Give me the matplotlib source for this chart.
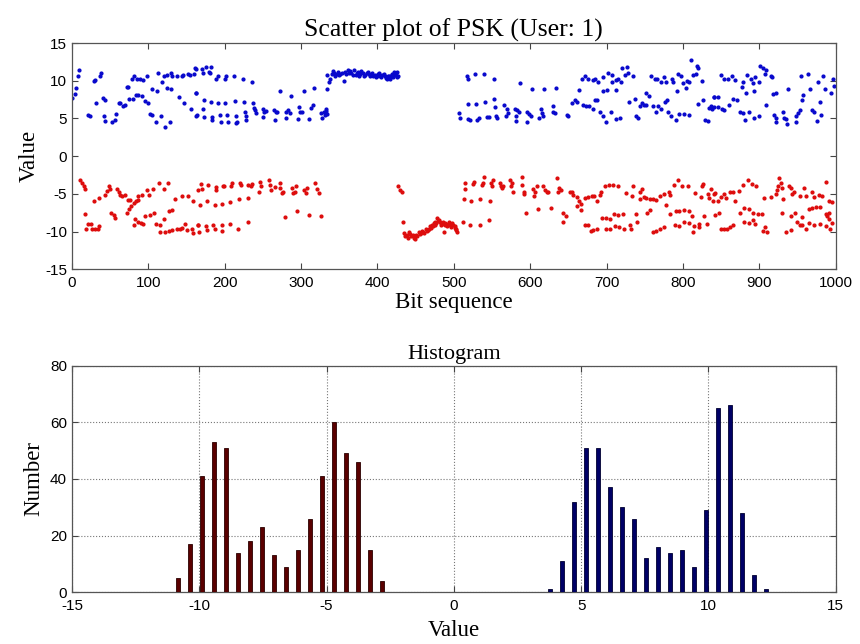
import matplotlib
matplotlib.use("Agg")
import matplotlib.pyplot as plt

# scatter values (bit index, value)
blue_x = [0.2, 3.3, 5.9, 8, 9.8, 21, 23, 28.5, 30.6, 32, 37, 38.5, 40, 43.7, 41.5, 43.7, 52, 56, 57.6, 61, 63.3, 66.3, 69,
          72, 74, 75, 80, 78, 81, 85, 89, 93.6, 98, 83.6, 87, 91.5, 96, 100, 102, 104.5, 105, 111, 110, 116, 122, 128,
          112, 117.6, 120, 124, 130, 131, 124, 130, 137, 144, 146, 151.5, 154.5, 160, 161, 140, 147, 156, 162, 164,
          163, 170.6, 172, 176, 179, 182, 180.6, 189, 191, 201, 202, 212, 224, 236, 163, 172.7, 182, 191, 201, 213,
          225, 237, 172, 163, 173, 183.6, 183.6, 193.6, 195, 203.6, 204.5, 214.5, 216, 215, 226, 227.5, 228, 238,
          241.4, 240, 250, 252, 254.4, 250, 264.4, 266.6, 265.3, 268.8, 271.8, 280.5, 282.7, 285, 287, 280.5, 295.7,
          297, 299, 301, 303.5, 311, 313, 315, 317.5, 326, 327.5, 330.5, 332.7, 334, 334,
          332.7, 334, 331.8, 337, 338.3, 340, 343.5, 347, 350, 353, 355.7, 357.4, 361, 363, 366, 369.6, 371.8, 374,
          377.4, 380.5, 382.7, 386, 389, 392, 394.8, 397.9, 401, 403.5, 406.6, 409.6, 412.2, 415.2, 417.4, 419.6,
          421.8, 424, 425, 427, 341.5, 345, 348.5, 351.5, 358.9, 364.5, 367.8, 372.9, 375.7, 379, 384.3, 387.6, 390.5,
          393.4, 396.3, 399.5, 402.2, 405, 408, 410.9, 413.7, 416.3, 418.5, 420.7, 422.9, 426,
          517.4, 518.3, 528.2, 540, 552, 587, 603, 618.6, 634, 518.3, 529.6, 541.3, 553, 554.3, 566, 569.5, 570.4,
          568.7, 580.4, 582.6, 584.7, 581.7, 581.3, 595.6, 597.8, 600.8, 595.6, 613.9, 615.2, 616.5, 612.1, 629.5,
          630.4, 632.5, 647.8, 650, 654.3, 658.6, 660.8, 664.3, 667.3, 671.7, 506.5, 507.8, 518.3, 520.9, 530.4,
          532.6, 543.5, 545.6, 555.6, 556.5,
          676, 681.7, 684.7, 689, 695.6, 702.1, 707.7, 713, 715.1, 719.5, 720.8, 723.8, 726.9, 728.2, 734.7, 695.6,
          700.8, 713, 707.7, 669.5, 673, 677.3, 681.7, 684.7, 687.8, 691.2, 694.7, 699.9, 706.4, 712.1, 718.2, 729.5,
          736.9, 739, 741.2, 743.4, 746.9, 748.6, 752.1, 755.5, 752.1, 760.8, 764.2, 767.3, 771.6, 776, 779, 780.3,
          784.7, 791.2, 795.5, 802, 807.7, 758.6, 763, 766, 771.6, 774.7, 778.2, 786, 786.8, 793.4, 797.7, 799.9,
          805.1, 808.6, 810.7, 812.9, 817.3, 819.4, 818.1, 825.1, 792.5, 803.4, 819.4, 826.8, 829.4, 832.5, 834.6,
          838.1, 836.8, 841.2,
          849.9, 854.2, 858.6, 864.2, 868.6, 877.2, 879, 882.5, 883.3, 889, 891.2, 894.6, 893.3, 899.8, 901.1, 904.2,
          907.7, 908.5, 915.1, 917.2, 954.2, 964.2, 965.9, 977.2, 983.3, 985.9, 993.3, 841.2, 845.5, 841.2, 845.5,
          851.2, 854.2, 859.9, 866, 870.3, 874.6, 879, 881.6, 886.8, 893.3, 899.8, 909.4, 918.1, 922.4, 919.4, 921.6,
          922.4, 931.1, 932.4, 935.5, 936.8, 947.6, 948.5, 951.1, 952.9, 938.1, 955.5, 957.2, 969.4, 971.6, 975.9,
          978.9, 980.2, 998, 996]
blue_y = [7.7, 8.2, 9.1, 10.6, 11.4, 5.5, 5.3, 10.0, 10.1, 7.0, 10.6, 11.0, 7.7, 7.5, 5.3, 4.7, 4.6, 4.8, 5.6, 7.0, 7.0,
          6.7, 6.8, 9.2, 9.2, 7.6, 7.6, 10.3, 10.7, 10.3, 10.2, 10.1, 10.7, 8.1, 8.1, 8.0, 7.3, 7.1, 5.6, 5.5, 8.9,
          8.6, 4.6, 5.3, 3.9, 4.5, 11.0, 9.9, 10.6, 10.8, 11.0, 10.6, 9.0, 8.9, 10.6, 10.6, 10.8, 10.9, 10.8, 10.9,
          11.7, 7.9, 7.0, 6.3, 8.4, 5.5,
          11.6, 11.6, 11.1, 11.9, 11.2, 11.8, 11.0, 10.3, 10.6, 10.2, 10.6, 10.7, 10.2, 9.8, 8.4, 7.5, 7.2, 7.1, 7.1,
          7.3, 7.2, 7.1, 6.2, 5.3, 5.2, 5.2, 4.8, 5.5, 4.6, 5.4, 4.5, 5.3, 4.6, 4.4, 5.8, 5.3, 4.8, 6.4, 5.7, 6.1,
          6.2, 5.9, 6.0, 5.2, 6.1, 5.9, 4.8, 5.9, 8.7, 5.8, 6.1, 5.7, 8.0, 5.0, 4.9, 6.5, 5.9, 5.8, 8.6, 4.9, 6.4,
          6.8, 9.1, 5.7, 5.0, 5.9, 6.2, 10.8, 8.9,
          6.0, 5.6, 5.5, 9.9, 10.3, 10.9, 11.1, 10.9, 10.8, 11.1, 10.0, 11.2, 11.4, 11.1, 11.0, 11.4, 10.8, 11.2,
          10.9, 11.1, 10.6, 11.1, 10.9, 10.8, 10.6, 10.5, 10.9, 10.6, 10.8, 10.6, 10.2, 10.6, 10.6, 10.9, 11.2, 11.0,
          10.5, 10.6, 11.3, 10.7, 11.2, 10.9, 10.9, 11.3, 10.8, 11.0, 10.7, 11.3, 10.8, 11.2, 10.7, 11.0, 10.8, 10.7,
          11.1, 10.5, 10.9, 10.4, 10.7, 10.3, 10.8, 10.5, 10.8, 11.2,
          10.6, 10.2, 10.9, 10.9, 10.3, 9.7, 8.9, 8.9, 9.0, 6.9, 6.9, 7.2, 7.6, 6.5, 6.8, 6.2, 5.7, 5.3, 6.3, 6.1,
          5.9, 5.3, 4.7, 5.9, 5.6, 5.3, 4.5, 6.3, 5.7, 5.3, 5.0, 6.6, 5.9, 5.7, 5.5, 5.3, 7.1, 7.5, 7.2, 8.8, 10.2,
          10.6, 5.7, 5.0, 4.9, 4.8, 4.8, 5.0, 5.2, 5.2, 5.3, 5.0,
          10.3, 10.1, 10.2, 9.9, 10.5, 11.1, 10.8, 10.1, 10.3, 9.9, 11.7, 10.8, 11.8, 11.1, 10.6, 8.6, 8.8, 8.8,
          9.9, 6.8, 6.7, 6.7, 6.2, 7.5, 7.4, 5.9, 5.3, 4.5, 5.9, 4.9, 5.0, 7.2, 7.6, 5.3, 5.0, 6.7, 7.1, 6.8, 8.4,
          8.0, 6.8, 6.6, 5.9, 6.6, 6.2, 7.2, 7.4, 5.9, 5.3, 4.8, 5.6, 5.6, 5.5, 10.6, 10.3, 10.2, 9.8, 10.5, 9.8,
          10.2, 9.9, 10.9, 10.6, 9.7, 10.0, 9.9, 12.7, 10.8, 10.9, 11.7, 12.0, 10.0, 8.7, 9.1, 6.9, 7.4, 4.8, 4.7,
          6.4, 6.2, 6.6, 7.9,
          10.8, 10.2, 10.3, 10.6, 10.1, 9.2, 9.9, 8.4, 10.8, 10.3, 9.7, 10.5, 8.6, 9.8, 12.0, 11.7, 10.9, 11.5,
          10.6, 10.5, 10.6, 10.9, 8.9, 9.8, 10.6, 8.9, 8.4, 7.8, 7.8, 6.5, 6.5, 6.2, 6.1, 6.8, 7.6, 7.4, 5.9, 5.7,
          4.8, 5.9, 5.0, 5.3, 6.8, 8.3, 8.4, 5.5, 5.0, 4.6, 5.9, 5.0, 4.9, 4.3, 4.6, 5.3, 5.7, 6.1, 8.9, 7.5, 8.1,
          6.1, 5.9, 4.7, 7.2, 5.5, 9.3, 10.3]

red_x = [11, 13, 15.4, 16.7, 17.6, 18.5, 20.6, 25, 26, 29.7, 33.7, 35, 28.5, 36, 43.7, 46, 48, 50, 51.5, 54.5, 56.7, 59,
         61, 63.2, 66, 69, 72, 75, 77.6, 80.6, 84, 87, 73, 76, 80.6, 83, 87, 90.6, 93.6, 86, 91.5, 98, 101.5, 106.7,
         96, 102.3, 108, 110, 115.4, 121, 114.5, 120, 125.4, 115.4, 122, 127, 131.5, 137, 141.5, 144.5, 127, 131.5,
         135, 143.6, 151.5, 159, 164.5, 148, 150, 157, 159, 164.5,
         168.8, 169.7, 178.4, 188, 189.2, 198, 199.2, 208, 209.7, 219.7, 221.8, 230.5, 234, 235.7, 245.7, 248, 244.4,
         257.5, 258.8, 261, 265.3, 273, 273, 274.9, 276.2, 288, 289.2, 291.4, 293.5, 304.4, 306.6, 307.9, 318.3, 321,
         324, 167.5, 177, 187, 196.6, 206.6, 218.8, 230.5, 278.3, 294.4, 311, 326, 165.3, 166.2, 175, 177, 185, 187,
         195.8, 196.6, 206.6, 217.5, 230.5,
         427, 429.6, 432.6, 433.5, 434.8, 438.3, 441.3, 444.4, 447.8, 450, 454.4, 457.4, 460, 463, 466, 468.7, 471.7,
         474, 476, 478.3, 480.4, 482.6, 484.8, 487, 489, 492, 494.8, 497.8, 500.9, 503.5, 436.5, 439.8, 442.8, 446,
         449, 452, 455.9, 458.7, 461.5, 464.6, 467.3, 470.2, 473, 475, 477.2, 479.4, 481.5, 483.7, 486, 488, 490.5,
         493.4, 496.3, 499.4, 502,
         502.2, 504.3, 512.2, 521.7, 533.9, 545.6, 513.9, 522.6, 534.8, 546.9, 515.2, 515.2, 525.2, 527, 537, 539,
         538.2, 548.7, 551.3, 550, 560.8, 561.7, 563, 565, 573.9, 576, 577.4, 574.7, 589.1, 589.1, 591.3, 592.1,
         604.3, 606.5, 608.7, 605.2, 617.3, 619.5, 621.7, 623.9, 634.7, 638.2, 640, 636.9, 652.1, 654.3, 656.5,
         660.8, 664.3, 666.5, 594.7, 610.8, 626.9, 642.5, 643.4, 646.9, 661.7, 666.5, 671.7,
         671.7, 676, 680.4, 683.4, 687.8, 691.2, 692.1, 697.7, 703.4, 708.6, 715.1, 725.1, 733.8, 734.7, 743.4,
         746.9, 744.3, 748.6, 752.1, 756.4, 760.8, 764.2, 769.5, 774.7, 781.6, 782.5, 778.2, 787.7, 793.4, 799,
         806.4, 816.4, 823.8, 825.1, 826.8, 832.5, 834.6, 836.8, 839.9, 842.5, 693.4, 699, 704.3, 709.5, 715.1,
         721.7, 738.2, 752.9, 757.3, 783.4, 790.3, 795.5, 802, 807.7, 812.1, 828.1, 676, 679, 682.5, 686.9, 699,
         705.1, 710.8, 716.4, 722.5, 730.3, 732.5, 739.9, 760.8, 764.2, 769.5, 774.7, 789, 795.5, 802, 808.6, 812.9,
         815.1, 820.7, 821.6, 831.2,
         841.2, 845.5, 849.9, 854.2, 856.4, 861.6, 865.1, 868.6, 872.9, 879, 884.6, 890.3, 895.5, 906.4, 915.1,
         922.4, 923.7, 925, 925.9, 928.1, 929.4, 931.1, 939, 941.1, 943.3, 945.5, 952.9, 958.5, 961.6, 968.5, 971.6,
         978.1, 981.5, 986.8, 991.1, 994.6, 842.5, 846.8, 874.6, 880.3, 886.8, 892, 897.7, 903.3, 930.3, 941.1,
         946.8, 955.5, 965, 969.4, 974.6, 979, 986.8, 991.1, 988.9, 991.1, 994.6, 849.9, 854.2, 857.3, 861.6, 866,
         880.3, 885.9, 892, 894.6, 904.2, 907.7, 910.7, 934.6, 941.1, 949.8, 952.9, 956.3, 960.7, 965, 971.6, 979,
         986.8, 992]
red_y = [-3.2, -3.6, -4.0, -4.4, -7.7, -9.6, -9.0, -9.0, -9.7, -9.6, -9.6, -9.3, -6.0, -5.6, -5.1, -4.6, -4.0, -4.4,
         -7.6, -7.8, -8.2, -4.3, -4.7, -5.1, -5.3, -5.1, -7.6, -7.0, -6.6, -6.2, -6.0, -5.8, -5.8, -5.8, -9.1, -8.4,
         -8.8, -8.9, -9.0, -5.3, -5.2, -4.5, -5.1, -4.4, -8.0, -7.8, -7.6, -9.0, -9.1, -8.4, -3.5, -4.3, -3.5, -10.0,
         -10.0, -9.9, -9.8, -9.7, -9.6, -9.5, -7.3, -7.1, -5.7, -5.3, -5.3, -5.9, -4.5, -9.0, -9.8, -9.6, -10.2, -9.1,
         -3.7, -4.4, -3.8, -4.5, -4.1, -4.0, -3.9, -3.9, -3.6, -3.6, -3.8, -3.8, -4.0, -3.7, -3.4, -4.0, -4.8, -3.1,
         -3.8, -4.5, -4.1, -3.6, -4.2, -4.9, -4.7, -4.2, -4.9, -4.7, -4.0, -4.5, -4.9, -4.2, -3.6, -4.4, -4.9, -6.5,
         -6.0, -6.5, -6.3, -6.1, -5.7, -5.6, -8.1, -7.3, -7.8, -7.9, -9.1, -10.0, -9.3, -9.8, -9.1, -9.6, -9.2, -9.9,
         -9.0, -9.6, -8.8,
         -4.0, -4.5, -4.8, -8.7, -10.2, -10.4, -10.1, -10.6, -10.9, -10.4, -10.1, -10.2, -10.0, -9.7, -9.8, -9.3,
         -9.1, -8.9, -8.8, -8.2, -8.5, -8.9, -9.0, -10.1, -8.9, -9.0, -9.1, -8.9, -9.3, -9.6, -10.6, -10.8, -10.3,
         -10.5, -11.0, -10.6, -10.3, -9.9, -10.2, -9.9, -9.6, -9.5, -9.3, -9.2, -8.9, -8.6, -8.7, -9.2, -8.8, -9.2,
         -9.3, -8.8, -9.4, -9.1, -9.5,
         -9.8, -10.1, -8.8, -9.2, -9.1, -8.5, -5.7, -5.9, -5.7, -5.9, -3.6, -4.4, -3.7, -3.4, -3.8, -2.8, -3.6,
         -3.6, -3.1, -3.9, -3.5, -4.0, -4.2, -4.0, -3.2, -3.6, -4.7, -4.0, -2.8, -3.8, -4.7, -5.0, -4.4, -4.8, -4.0,
         -5.3, -4.0, -4.5, -4.8, -4.7, -2.9, -4.2, -4.5, -4.7, -4.8, -4.7, -5.1, -5.4, -6.0, -6.3, -7.5, -7.0, -6.9,
         -7.5, -8.8, -8.0, -6.6, -7.1, -9.1,
         -5.6, -5.4, -5.3, -5.3, -6.0, -5.1, -4.7, -4.0, -3.8, -3.8, -4.0, -4.9, -5.3, -4.0, -4.7, -4.4, -5.7, -5.4,
         -5.6, -5.7, -5.7, -5.8, -5.3, -5.0, -4.7, -5.1, -6.5, -3.8, -3.1, -3.9, -4.0, -4.9, -5.4, -4.0, -3.7, -5.0,
         -5.5, -4.4, -6.0, -4.9, -8.2, -8.2, -8.4, -7.7, -7.8, -7.7, -7.7, -7.6, -7.2, -7.7, -7.3, -7.3, -7.1, -7.3,
         -7.9, -7.9, -9.1, -9.9, -9.8, -9.7, -9.7, -9.6, -9.3, -9.4, -9.7, -9.1, -9.6, -8.8, -10.0, -9.9, -9.6, -9.4,
         -9.2, -9.3, -8.8, -8.9, -10.0, -9.3, -9.0, -9.4, -9.0,
         -5.0, -6.0, -5.4, -5.0, -5.6, -4.8, -4.8, -5.9, -4.6, -3.8, -3.1, -3.7, -3.9, -5.5, -5.4, -5.0, -4.5, -3.9,
         -2.9, -3.5, -4.2, -5.7, -3.9, -4.2, -5.0, -4.8, -5.3, -4.2, -5.3, -4.8, -5.4, -5.1, -5.3, -3.4, -6.0, -6.1,
         -7.8, -7.5, -7.5, -6.9, -7.0, -7.5, -7.7, -7.7, -7.6, -7.9, -7.6, -8.1, -7.0, -6.9, -6.8, -6.8, -7.7, -7.6,
         -8.0, -8.4, -8.9, -9.7, -9.7, -9.6, -9.4, -9.1, -8.8, -8.9, -8.5, -9.0, -9.9, -9.4, -10.0, -10.0, -9.8,
         -8.7, -9.1, -9.2, -9.6, -8.9, -9.2, -9.0, -9.3, -9.6]

# histogram bins (centre, count)
red_centers = [-10.84, -10.37, -9.90, -9.43, -8.96, -8.48, -8.01, -7.54, -7.07, -6.60, -6.13, -5.66, -5.19,
               -4.71, -4.24, -3.77, -3.30, -2.83]
red_counts = [5, 17, 41, 53, 51, 14, 18, 23, 13, 9, 15, 26, 41, 60, 49, 46, 15, 4]
blue_centers = [3.77, 4.24, 4.71, 5.18, 5.66, 6.13, 6.60, 7.07, 7.54, 8.01, 8.48, 8.96, 9.43, 9.90, 10.37,
                10.84, 11.31, 11.79, 12.26]
blue_counts = [1, 11, 32, 51, 51, 37, 30, 26, 12, 16, 14, 15, 9, 29, 65, 66, 28, 6, 1]

plt.rcParams["axes.unicode_minus"] = False
serif = "Liberation Serif"
sans = "Liberation Sans"

fig = plt.figure(figsize=(8.6, 6.44), dpi=100)

# top panel: scatter
ax1 = fig.add_axes([0.0837, 0.582, 0.888, 0.351])
ax1.plot(blue_x, blue_y, ".", color="#0808cc", markersize=4)
ax1.plot(red_x, red_y, ".", color="#dd0c0c", markersize=4)
ax1.set_xlim(0, 1000)
ax1.set_ylim(-15, 15)
ax1.set_xticks(range(0, 1001, 100))
ax1.set_yticks(range(-15, 16, 5))
ax1.set_title("Scatter plot of PSK (User: 1)", family=serif, fontsize=18.5, pad=5)
ax1.set_xlabel("Bit sequence", family=serif, fontsize=16.5, labelpad=1)
ax1.set_ylabel("Value", family=serif, fontsize=16.5, labelpad=4)

# bottom panel: histogram
ax2 = fig.add_axes([0.0837, 0.0803, 0.888, 0.352])
ax2.bar(red_centers, red_counts, width=0.15, color="#5a0000", edgecolor="#2a0000", linewidth=0.6, zorder=3)
ax2.bar(blue_centers, blue_counts, width=0.15, color="#000066", edgecolor="#000030", linewidth=0.6, zorder=3)
ax2.set_xlim(-15, 15)
ax2.set_ylim(0, 80)
ax2.set_xticks(range(-15, 16, 5))
ax2.set_yticks(range(0, 81, 20))
ax2.grid(True, linestyle=":", color="#777777", linewidth=0.8, zorder=0)
ax2.set_title("Histogram", family=serif, fontsize=16, pad=5)
ax2.set_xlabel("Value", family=serif, fontsize=16.5, labelpad=5)
ax2.set_ylabel("Number", family=serif, fontsize=16.5, labelpad=4)

for ax in (ax1, ax2):
    ax.tick_params(direction="in", top=True, right=True, length=4, width=0.8, color="#444444", labelsize=11)
    ax.tick_params(axis="x", pad=5)
    for lab in ax.get_xticklabels() + ax.get_yticklabels():
        lab.set_family(sans)
    for sp in ax.spines.values():
        sp.set_color("#555555")
        sp.set_linewidth(0.9)

fig.savefig("out.png", dpi=100)
